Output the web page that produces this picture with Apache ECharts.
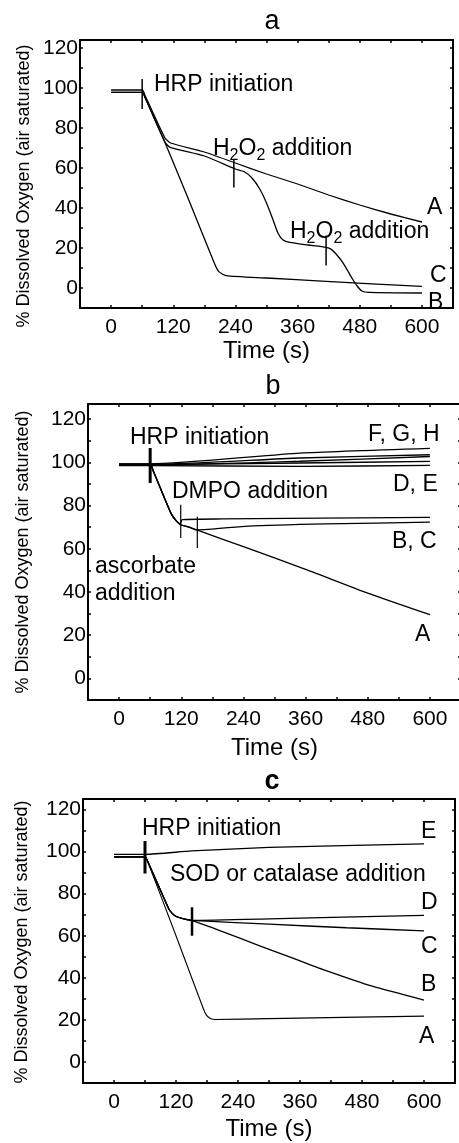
<!DOCTYPE html>
<html>
<head>
<meta charset="utf-8">
<script src="https://cdn.jsdelivr.net/npm/echarts@6.0.0/dist/echarts.min.js"></script>
<style>
  html, body { margin: 0; padding: 0; background: #fff; }
  #chart { width: 459px; height: 1143px; }
</style>
</head>
<body>
<div id="chart"></div>
<script>
// time ticks (s) and oxygen ticks (%)
const timeTicks = [0, 120, 240, 360, 480, 600];
const oxygenTicks = [0, 20, 40, 60, 80, 100, 120];

// panel a: [time s, % dissolved O2]
const aCurveA = [[0, 99], [60, 99], [66, 96], [104, 75], [115, 72.5], [180, 68], [240, 62.5], [300, 57], [360, 52], [420, 46.5], [480, 41.5], [540, 37], [600, 33]];
const aCurveB = [[0, 97.8], [60, 97.8], [66, 95], [104, 73], [114, 70.3], [180, 66], [240, 59.5], [258, 58], [272, 55], [287, 49.5], [300, 42.5], [312, 34.5], [322, 27.5], [332, 24], [345, 22.8], [380, 21.5], [415, 20.3], [425, 19.3], [436, 16.5], [447, 12.8], [457, 8.5], [466, 4.5], [475, 1], [484, -1.5], [498, -2.2], [600, -2.5]];
const aCurveC = [[0, 97.8], [60, 97.8], [66, 95], [104, 72.8], [150, 44], [200, 12], [208, 8.2], [222, 6.2], [300, 5], [415, 3.3], [600, 0.8]];
const aHrpMark = [[60, 89.5], [60, 104.5]];
const aH2o2Mark1 = [[237, 50.3], [237, 64.5]];
const aH2o2Mark2 = [[415, 11.2], [415, 26.2]];

// panel b
const bCurveA = [[0, 99], [60, 99], [66, 96], [100, 76.5], [110, 73], [120, 71], [135, 70], [150, 68.7], [240, 61], [360, 50.5], [480, 39.5], [600, 29.5]];
const bCurveB = [[0, 99], [60, 99], [66, 96], [100, 76.5], [110, 73], [118, 71.5], [122, 73.5], [200, 73.8], [600, 74.5]];
const bCurveC = [[0, 99], [60, 99], [66, 96], [100, 76.5], [110, 73], [120, 71], [135, 70], [150, 68.7], [250, 70.5], [400, 71.5], [600, 72.3]];
const bCurveD = [[0, 99], [60, 99], [349, 99.7], [600, 100.4]];
const bCurveE = [[0, 98.5], [60, 98.5], [349, 98.1], [600, 98.6]];
const bCurveF = [[0, 99.3], [60, 99.3], [349, 104.3], [600, 106.5]];
const bCurveG = [[0, 99], [60, 99], [349, 102], [600, 103.5]];
const bCurveH = [[0, 98.7], [60, 98.7], [349, 100.5], [600, 102.7]];
const bHrpMark = [[60, 90.4], [60, 106.6]];
const bDmpoMark1 = [[119, 65], [119, 80.4]];
const bDmpoMark2 = [[151, 60.4], [151, 74.8]];

// panel c
const cCurveA = [[0, 97.5], [60, 97.5], [64, 96], [120, 60], [176, 23.5], [184, 21], [195, 20.2], [300, 20.6], [600, 21.8]];
const cCurveB = [[0, 97.5], [60, 97.5], [64, 96], [100, 76], [108, 72], [118, 69.5], [135, 68], [150, 67.3], [210, 62], [282, 55.2], [350, 49], [412, 43.3], [500, 36], [600, 29.4]];
const cCurveC = [[0, 97.5], [60, 97.5], [64, 96], [100, 76], [108, 72], [118, 69.5], [135, 68], [150, 67.3], [300, 65.5], [450, 63.8], [600, 62.3]];
const cCurveD = [[0, 97.5], [60, 97.5], [64, 96], [100, 76], [108, 72], [118, 69.5], [135, 68], [150, 67.3], [300, 68], [600, 69.7]];
const cCurveE = [[0, 98.7], [60, 98.7], [150, 100.3], [300, 102], [600, 103.7]];
const cHrpMark = [[60, 89.6], [60, 105]];
const cSodMark = [[151, 60], [151, 73.5]];

const FONT = '"Liberation Sans", Arial, Helvetica, sans-serif';

const chart = echarts.init(document.getElementById("chart"), null, { renderer: "canvas" });

// grid boxes in px (panel b runs past the right edge of the page)
const panels = [
  { left: 80, right: 6, top: 40, height: 268, yMax: 124 },
  { left: 88, right: -2, top: 404, height: 296, yMax: 127 },
  { left: 83, right: 4, top: 799, height: 284, yMax: 125 },
];

let grids = [];
let xAxes = [];
let yAxes = [];
panels.forEach(function (p, i) {
  grids.push({ left: p.left, right: p.right, top: p.top, height: p.height, outerBoundsMode: "none" });
  ["bottom", "top"].forEach(function (pos) {
    xAxes.push({
      type: "value",
      gridIndex: i,
      position: pos,
      min: -60,
      max: 660,
      interval: 60,
      axisLine: { show: true, onZero: false, lineStyle: { color: "#000", width: 2 } },
      axisTick: { show: true, inside: true, length: 3, lineStyle: { color: "#000", width: 1.5 } },
      axisLabel: {
        show: pos === "bottom",
        margin: 9,
        color: "#000",
        fontSize: 21,
        fontFamily: FONT,
        formatter: function (v) {
          return timeTicks.indexOf(v) >= 0 ? String(v) : "";
        },
      },
      splitLine: { show: false },
      name: pos === "bottom" ? "Time (s)" : "",
      nameLocation: "middle",
      nameGap: [31, 36, 34][i],
      nameTextStyle: { color: "#000", fontSize: 24, fontFamily: FONT },
    });
  });
  ["left", "right"].forEach(function (pos) {
    yAxes.push({
      type: "value",
      gridIndex: i,
      position: pos,
      min: -10,
      max: p.yMax,
      interval: 10,
      axisLine: { show: true, onZero: false, lineStyle: { color: "#000", width: 2 } },
      axisTick: { show: true, inside: true, length: 3, lineStyle: { color: "#000", width: 1.5 } },
      axisLabel: {
        show: pos === "left",
        margin: 2,
        color: "#000",
        fontSize: 21,
        fontFamily: FONT,
        formatter: function (v) {
          return oxygenTicks.indexOf(v) >= 0 ? String(v) : "";
        },
      },
      splitLine: { show: false },
    });
  });
});

function curve(data, panel, width) {
  return {
    type: "line",
    xAxisIndex: panel * 2,
    yAxisIndex: panel * 2,
    data: data,
    showSymbol: false,
    smooth: 0.2,
    silent: true,
    lineStyle: { color: "#000", width: width || 1.3 },
    z: 3,
  };
}

function mark(data, panel, width) {
  return {
    type: "line",
    xAxisIndex: panel * 2,
    yAxisIndex: panel * 2,
    data: data,
    showSymbol: false,
    silent: true,
    lineStyle: { color: "#000", width: width },
    z: 4,
  };
}

const series = [
  curve(aCurveA, 0), curve(aCurveB, 0), curve(aCurveC, 0),
  mark(aHrpMark, 0, 1.5), mark(aH2o2Mark1, 0, 1.5), mark(aH2o2Mark2, 0, 1.5),
  curve(bCurveA, 1), curve(bCurveB, 1), curve(bCurveC, 1), curve(bCurveD, 1),
  curve(bCurveE, 1), curve(bCurveF, 1), curve(bCurveG, 1), curve(bCurveH, 1),
  mark(bHrpMark, 1, 3), mark(bDmpoMark1, 1, 1.2), mark(bDmpoMark2, 1, 1.2),
  curve(cCurveA, 2, 1.1), curve(cCurveB, 2), curve(cCurveC, 2), curve(cCurveD, 2), curve(cCurveE, 2),
  mark(cHrpMark, 2, 3), mark(cSodMark, 2, 2.5),
];

function txt(text, x, y, size, weight, align) {
  return {
    type: "text",
    x: x,
    y: y,
    z: 10,
    style: {
      text: text,
      fill: "#000",
      font: (weight || "normal") + " " + (size || 23) + "px " + FONT,
      align: align || "left",
      verticalAlign: "middle",
    },
  };
}

function h2o2(x, y) {
  return {
    type: "text",
    x: x,
    y: y,
    z: 10,
    style: {
      text: "{n|H}{s|2}{n|O}{s|2}{n| addition}",
      fill: "#000",
      align: "left",
      verticalAlign: "middle",
      rich: {
        n: { fontSize: 23, fontFamily: FONT, lineHeight: 28, fill: "#000" },
        s: { fontSize: 16, fontFamily: FONT, lineHeight: 16, padding: [14, 0, 0, 0], fill: "#000" },
      },
    },
  };
}

function yTitle(x, y) {
  return {
    type: "text",
    x: x,
    y: y,
    rotation: Math.PI / 2,
    z: 10,
    style: {
      text: "% Dissolved Oxygen (air saturated)",
      fill: "#000",
      font: "18px " + FONT,
      align: "center",
      verticalAlign: "middle",
    },
  };
}

const graphic = [
  // panel titles
  txt("a", 272, 22, 27, "normal", "center"),
  txt("b", 273, 387, 27, "normal", "center"),
  txt("c", 272, 782, 27, "bold", "center"),
  yTitle(24, 186), yTitle(23, 552), yTitle(22, 942),
  // panel a labels
  txt("HRP initiation", 154, 85),
  h2o2(213, 149),
  h2o2(290, 232),
  txt("A", 427, 208),
  txt("C", 430, 276),
  txt("B", 428, 303),
  // panel b labels
  txt("HRP initiation", 130, 438),
  txt("F, G, H", 368, 435),
  txt("DMPO addition", 172, 492),
  txt("D, E", 393, 485),
  txt("B, C", 392, 542),
  txt("ascorbate", 95, 567),
  txt("addition", 95, 594),
  txt("A", 415, 635),
  // panel c labels
  txt("HRP initiation", 142, 829),
  txt("E", 421, 832),
  txt("SOD or catalase addition", 170, 875),
  txt("D", 421, 903),
  txt("C", 421, 947),
  txt("B", 421, 985),
  txt("A", 419, 1037),
];

chart.setOption({
  animation: false,
  backgroundColor: "#fff",
  grid: grids,
  xAxis: xAxes,
  yAxis: yAxes,
  series: series,
  graphic: graphic,
});
</script>
</body>
</html>
